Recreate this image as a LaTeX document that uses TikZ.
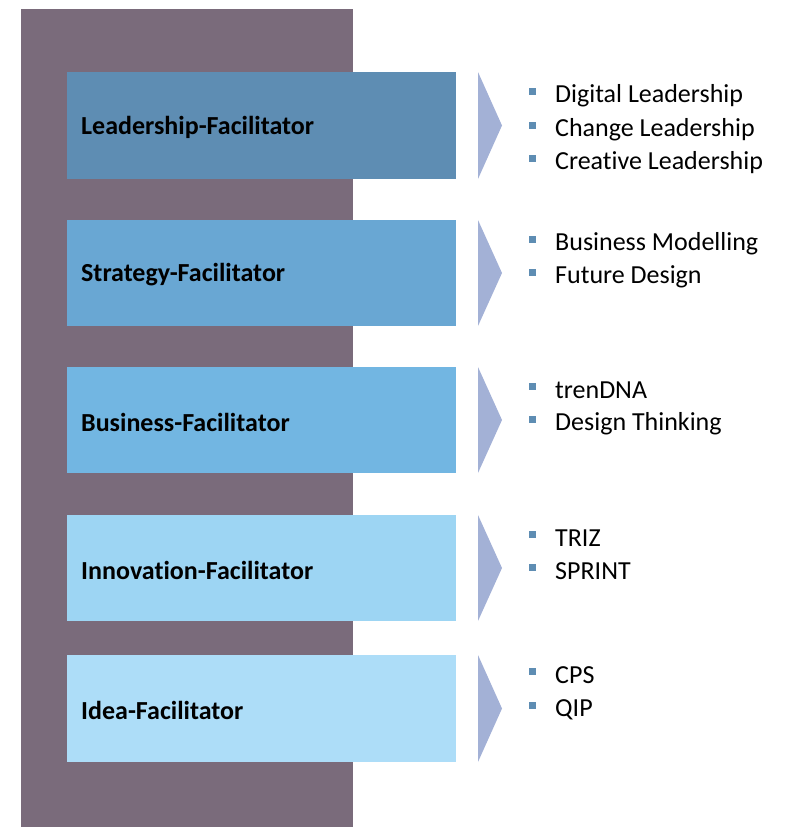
\documentclass[tikz,border=0pt]{standalone}
\usepackage{fontspec}
\setmainfont{Carlito}[Ligatures={NoCommon}]
\usepackage{tikz}
\usetikzlibrary{
	positioning		% relative placement
	, calc
}

\definecolor{backpurple}{HTML}{7A6B7B}
\definecolor{chevron}{HTML}{A3B1D6}
\definecolor{bulletblue}{HTML}{5E8DB3}
\definecolor{levelone}{HTML}{5E8DB3}
\definecolor{leveltwo}{HTML}{69A7D3}
\definecolor{levelthree}{HTML}{72B6E2}
\definecolor{levelfour}{HTML}{9DD5F3}
\definecolor{levelfive}{HTML}{ADDDF8}

\begin{document}
\begin{tikzpicture}[x=1pt, y=-1pt]
			\begin{scope}[
				level/.style={draw=none},
				levellabel/.style={anchor=west, inner sep=0, font=\fontsize{26}{30}\selectfont\bfseries},
				arrowhead/.style={fill=chevron},
				item/.style={anchor=west, inner sep=0, font=\fontsize{26}{30}\selectfont},
				dot/.style={fill=bulletblue}]

				\useasboundingbox (0, 0) rectangle (787, 827);

				% Background column
				\fill[backpurple] (21, 9) rectangle (353, 827);

				%% Level 1
				\fill[level, levelone] (67, 72) rectangle (456, 179);
				\node[levellabel] (lead) at (81, 127) {Leadership-Facilitator};
				\fill[arrowhead] (478, 72) -- (502, 125.5) -- (478, 179) -- cycle;

				%% Level 2
				\fill[level, leveltwo] (67, 220) rectangle (456, 326);
				\node[levellabel] (strat) at (81, 275) {Strategy-Facilitator};
				\fill[arrowhead] (478, 220) -- (502, 273) -- (478, 326) -- cycle;

				%% Level 3
				\fill[level, levelthree] (67, 367) rectangle (456, 473);
				\node[levellabel] (busi) at (81, 422) {Business-Facilitator};
				\fill[arrowhead] (478, 367) -- (502, 420) -- (478, 473) -- cycle;

				%% Level 4
				\fill[level, levelfour] (67, 515) rectangle (456, 621);
				\node[levellabel] (inno) at (81, 570) {Innovation-Facilitator};
				\fill[arrowhead] (478, 515) -- (502, 568) -- (478, 621) -- cycle;

				%% Level 5
				\fill[level, levelfive] (67, 655) rectangle (456, 762);
				\node[levellabel] (idea) at (81, 710) {Idea-Facilitator};
				\fill[arrowhead] (478, 655) -- (502, 708.5) -- (478, 762) -- cycle;

				% Bullet lists
				\foreach \y/\name/\txt in {
					93/dig/Digital Leadership, 127/chg/Change Leadership, 160/cre/Creative Leadership,
					241/bm/Business Modelling, 274/fd/Future Design,
					388/tdna/trenDNA, 421/dt/Design Thinking,
					536/triz/TRIZ, 569/spr/SPRINT,
					673/cps/CPS, 707/qip/QIP} {
				\fill[dot] (529, \y - 5) rectangle (536, \y + 2);
				\node[item] (\name) at (555, \y + 2.5) {\txt};
				}
			\end{scope}
		\end{tikzpicture}
\end{document}
